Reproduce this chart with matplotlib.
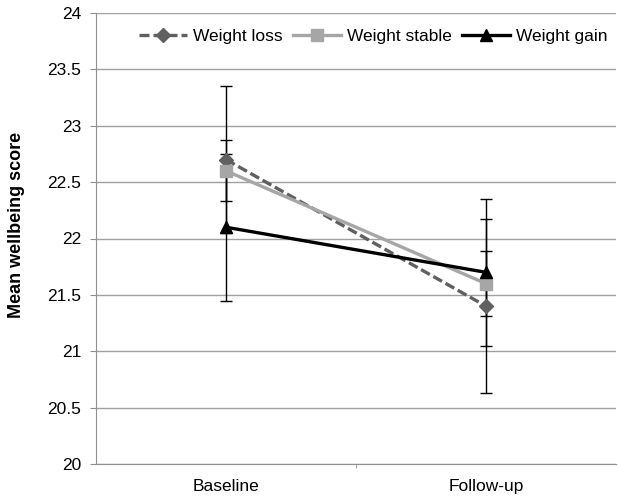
import numpy as np
import matplotlib.pyplot as plt

plt.rcParams['font.family'] = ['Liberation Sans', 'DejaVu Sans']

timepoints = ["Baseline", "Follow-up"]
groups = ["Weight loss", "Weight stable", "Weight gain"]
means = {
    "Weight loss": [22.7, 21.4],
    "Weight stable": [22.6, 21.6],
    "Weight gain": [22.1, 21.7],
}
errs = {
    "Weight loss": [0.65, 0.77],
    "Weight stable": [0.27, 0.29],
    "Weight gain": [0.65, 0.65],
}
colors = {"Weight loss": "#606060", "Weight stable": "#a6a6a6", "Weight gain": "#000000"}
markers = {"Weight loss": "D", "Weight stable": "s", "Weight gain": "^"}
styles = {"Weight loss": (0, (3, 1.2)), "Weight stable": "-", "Weight gain": "-"}
msizes = {"Weight loss": 7, "Weight stable": 8, "Weight gain": 9}

x = np.arange(len(timepoints))

fig = plt.figure(figsize=(6.18, 5.01), dpi=100)
ax = fig.add_axes([96/618, 1 - 464/501, 520/618, 451/501])

for g in groups:
    ax.errorbar(x, means[g], yerr=errs[g], fmt="none", ecolor="black",
                elinewidth=1.0, capsize=4, capthick=1.0, zorder=2)
for g in groups:
    ax.plot(x, means[g], color=colors[g], linestyle=styles[g], linewidth=2.4,
            marker=markers[g], markersize=msizes[g], label=g, zorder=3)

ax.set_xlim(-0.5, 1.5)
ax.set_ylim(20, 24)
ax.set_yticks(np.arange(20, 24.01, 0.5))
ax.set_yticklabels(["20", "20.5", "21", "21.5", "22", "22.5", "23", "23.5", "24"])
ax.set_xticks(x)
ax.set_xticklabels(timepoints)
ax.set_xticks([0.5], minor=True)
ax.yaxis.grid(True, color="#a0a0a0", linewidth=1.0)
ax.set_axisbelow(True)
for s in ["top", "right"]:
    ax.spines[s].set_visible(False)
ax.spines["left"].set_color("#909090")
ax.spines["bottom"].set_color("#909090")
ax.tick_params(axis="y", colors="#909090", labelcolor="black", labelsize=12.5, length=4.5, pad=6)
ax.tick_params(axis="x", which="major", length=0, labelsize=12.5, pad=11)
ax.tick_params(axis="x", which="minor", length=3, color="#909090")
ax.set_ylabel("Mean wellbeing score", fontsize=13, fontweight="bold")
ax.yaxis.set_label_coords(-0.137, 0.529)

ax.legend(loc="upper right", ncol=3, frameon=False, fontsize=12.5, handlelength=2.8,
          columnspacing=0.6, handletextpad=0.3, bbox_to_anchor=(1.013, 1.0))

fig.savefig("out.png", dpi=100)
